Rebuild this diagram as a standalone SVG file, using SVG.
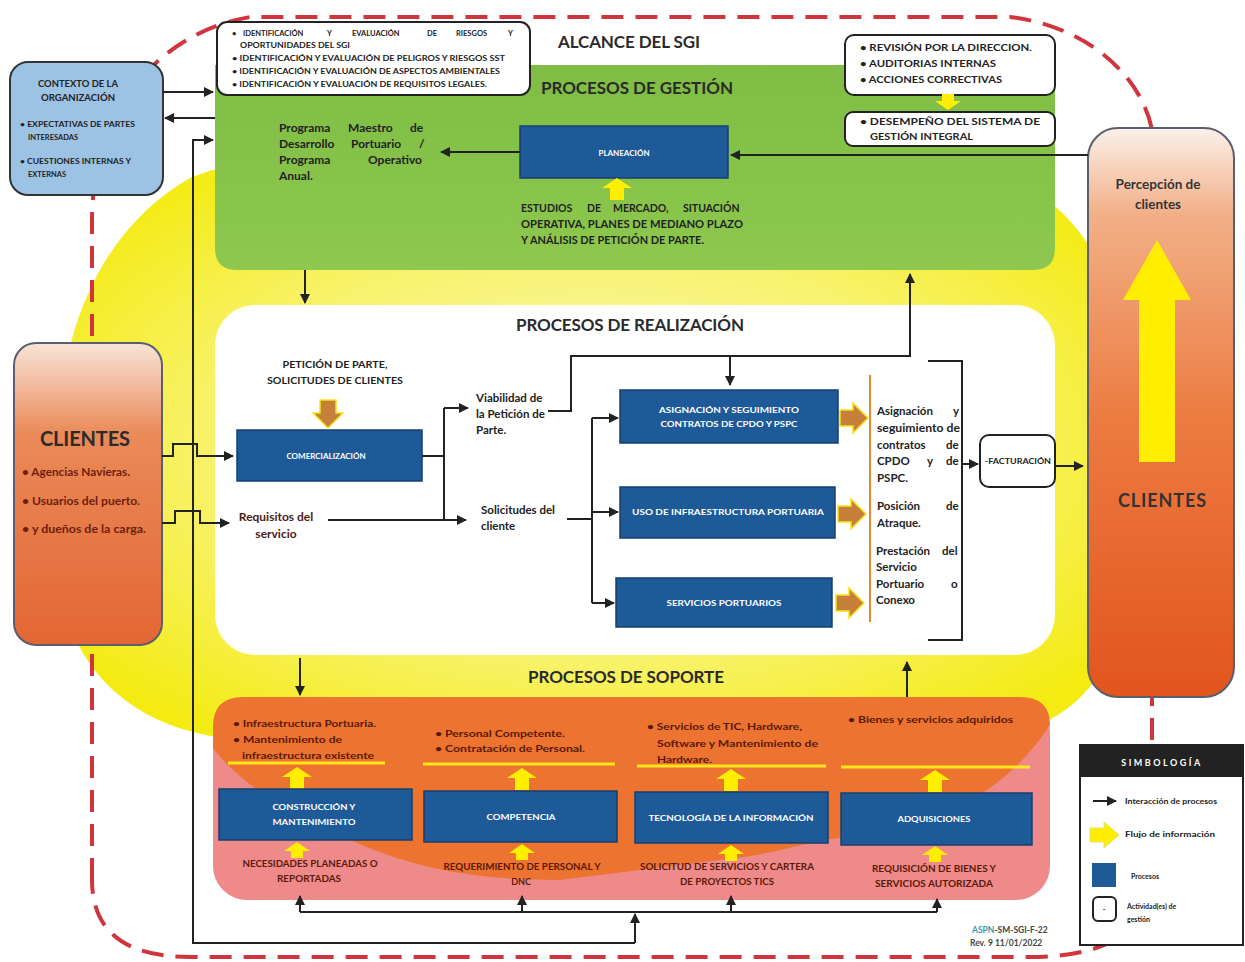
<svg xmlns="http://www.w3.org/2000/svg" width="1245" height="962" viewBox="0 0 1245 962">
<defs>
<radialGradient id="gYellow" cx="0.5" cy="0.5" r="0.6">
<stop offset="0" stop-color="#fcf9c8"/><stop offset="0.6" stop-color="#f8f26a"/><stop offset="1" stop-color="#f3eb12"/>
</radialGradient>
<linearGradient id="gGreen" x1="0" y1="0" x2="0" y2="1">
<stop offset="0" stop-color="#7fbd44"/><stop offset="1" stop-color="#8ec84e"/>
</linearGradient>
<linearGradient id="gCliL" x1="0" y1="0" x2="0" y2="1">
<stop offset="0" stop-color="#f8e4d8"/><stop offset="0.3" stop-color="#ea8a58"/><stop offset="1" stop-color="#e36634"/>
</linearGradient>
<linearGradient id="gCliR" x1="0" y1="0" x2="0" y2="1">
<stop offset="0" stop-color="#fbf0ea"/><stop offset="0.15" stop-color="#f2b088"/><stop offset="0.5" stop-color="#ec7c42"/><stop offset="1" stop-color="#e3541e"/>
</linearGradient>
<marker id="ah" viewBox="0 0 10 10" refX="9" refY="5" markerWidth="5" markerHeight="5" orient="auto" markerUnits="strokeWidth">
<path d="M0,0 L10,5 L0,10 z" fill="#222"/>
</marker>
<path id="yup" d="M0,0 L15,10 L7,10 L7,22 L-7,22 L-7,10 L-15,10 Z"/>
<path id="yupS" d="M0,0 L13,9 L6,9 L6,16 L-6,16 L-6,9 L-13,9 Z"/>
<path id="oright" d="M0,-8 L13,-8 L13,-15 L28,0 L13,15 L13,8 L0,8 Z"/>
</defs>
<style>
text{font-family:Lato,"Liberation Sans",Arial,sans-serif;font-weight:bold}
.title{font-size:17px;fill:#2a2a2a}
.proc{fill:#1e5a98;stroke:#163f6c;stroke-width:1.5}
.pt{fill:#fff;font-size:8px;text-anchor:middle}
.mgmt{fill:#fff;stroke:#222;stroke-width:2}
.sm{font-size:7.5px;fill:#222}
.bx{font-size:10px;fill:#222}
.tx{font-size:11.5px;fill:#222}
.dk{fill:#222}
.sup{font-size:10px;fill:#5a1a08}
.bot{font-size:9px;fill:#5a1a08;text-anchor:middle}
.cn{fill:none;stroke:#222;stroke-width:2}
.ya{fill:#ffee00}
.oa{fill:#c7803a;stroke:#f4e21a;stroke-width:1.5}
.yl{stroke:#ffe81a;stroke-width:3}
</style>
<rect width="1245" height="962" fill="#fff"/>
<path id="yellowbg" d="M58,440 C60,330 100,230 190,178 C220,165 260,160 310,160 L900,160 C1060,160 1125,250 1125,400 L1125,560 C1125,690 1060,740 950,740 L260,740 C120,740 58,650 58,560 Z" fill="url(#gYellow)"/>
<path id="boundary" d="M92,880 L92,220 C92,120 150,35 250,17 L1010,17 C1080,25 1140,70 1152,130 L1152,880 C1150,935 1100,957 1030,957 L190,957 C130,957 92,935 92,880 Z" fill="none" stroke="#d0343c" stroke-width="4" stroke-dasharray="22 12"/>
<g id="gestion">
<path d="M215,65 L1055,65 L1055,248 Q1055,270 1033,270 L237,270 Q215,270 215,248 Z" fill="url(#gGreen)"/>
<text class="title" x="541" y="94" textLength="192">PROCESOS DE GESTIÓN</text>
</g>
<text id="alcance" class="title" x="558" y="48" textLength="142">ALCANCE DEL SGI</text>
<g id="riesgos">
<rect class="mgmt" x="217" y="22" width="313" height="73" rx="10"/>
<text class="sm" y="36"><tspan x="232">•</tspan><tspan x="243">IDENTIFICACIÓN</tspan><tspan x="327">Y</tspan><tspan x="352">EVALUACIÓN</tspan><tspan x="427">DE</tspan><tspan x="456">RIESGOS</tspan><tspan x="508">Y</tspan></text>
<text class="sm" x="240" y="48" textLength="110" lengthAdjust="spacingAndGlyphs">OPORTUNIDADES DEL SGI</text>
<text class="sm" x="232" y="61" textLength="273" lengthAdjust="spacingAndGlyphs">• IDENTIFICACIÓN Y EVALUACIÓN DE PELIGROS Y RIESGOS SST</text>
<text class="sm" x="232" y="74" textLength="268" lengthAdjust="spacingAndGlyphs">• IDENTIFICACIÓN Y EVALUACIÓN DE ASPECTOS AMBIENTALES</text>
<text class="sm" x="232" y="87" textLength="255" lengthAdjust="spacingAndGlyphs">• IDENTIFICACIÓN Y EVALUACIÓN DE REQUISITOS LEGALES.</text>
</g>
<g id="revision">
<rect class="mgmt" x="845" y="35" width="210" height="60" rx="9"/>
<text class="bx" x="860" y="51" textLength="172" lengthAdjust="spacingAndGlyphs">• REVISIÓN POR LA DIRECCION.</text>
<text class="bx" x="860" y="67" textLength="136" lengthAdjust="spacingAndGlyphs">• AUDITORIAS INTERNAS</text>
<text class="bx" x="860" y="83" textLength="142" lengthAdjust="spacingAndGlyphs">• ACCIONES CORRECTIVAS</text>
</g>
<use class="ya" href="#yupS" transform="translate(948,110) rotate(180)"/>
<g id="desempeno">
<rect class="mgmt" x="845" y="112" width="210" height="34" rx="8"/>
<text class="bx" x="860" y="125" textLength="180" lengthAdjust="spacingAndGlyphs">• DESEMPEÑO DEL SISTEMA DE</text>
<text class="bx" x="870" y="140" textLength="103" lengthAdjust="spacingAndGlyphs">GESTIÓN INTEGRAL</text>
</g>
<g id="contexto">
<rect x="10" y="62" width="153" height="133" rx="18" fill="#9cc3e4" stroke="#333" stroke-width="2"/>
<text class="dk" x="78" y="87" font-size="8.5" text-anchor="middle" textLength="80" lengthAdjust="spacingAndGlyphs">CONTEXTO DE LA</text>
<text class="dk" x="78" y="101" font-size="8.5" text-anchor="middle" textLength="74" lengthAdjust="spacingAndGlyphs">ORGANIZACIÓN</text>
<text class="dk" x="20" y="127" font-size="7.5" textLength="115" lengthAdjust="spacingAndGlyphs">• EXPECTATIVAS DE PARTES</text>
<text class="dk" x="28" y="140" font-size="7.5">INTERESADAS</text>
<text class="dk" x="20" y="164" font-size="7.5" textLength="111" lengthAdjust="spacingAndGlyphs">• CUESTIONES INTERNAS Y</text>
<text class="dk" x="28" y="177" font-size="7.5">EXTERNAS</text>
</g>
<g id="programa" font-size="12">
<text class="dk" y="132"><tspan x="279">Programa</tspan><tspan x="348">Maestro</tspan><tspan x="410">de</tspan></text>
<text class="dk" y="148"><tspan x="279">Desarrollo</tspan><tspan x="351">Portuario</tspan><tspan x="419">/</tspan></text>
<text class="dk" y="164"><tspan x="279">Programa</tspan><tspan x="368">Operativo</tspan></text>
<text class="dk" x="279" y="180">Anual.</text>
</g>
<g id="planeacion">
<rect class="proc" x="520" y="126" width="208" height="52"/>
<text class="pt" x="624" y="156">PLANEACIÓN</text>
</g>
<use class="ya" href="#yup" transform="translate(617,178)"/>
<g id="estudios" font-size="10.5">
<text class="dk" y="212"><tspan x="521">ESTUDIOS</tspan><tspan x="587">DE</tspan><tspan x="613">MERCADO,</tspan><tspan x="683">SITUACIÓN</tspan></text>
<text class="dk" x="521" y="228" textLength="222" lengthAdjust="spacingAndGlyphs">OPERATIVA, PLANES DE MEDIANO PLAZO</text>
<text class="dk" x="521" y="244" textLength="183" lengthAdjust="spacingAndGlyphs">Y ANÁLISIS DE PETICIÓN DE PARTE.</text>
</g>
<g id="realizacion">
<rect x="215" y="305" width="840" height="350" rx="40" fill="#fff"/>
<text class="title" x="516" y="331" textLength="228">PROCESOS DE REALIZACIÓN</text>
</g>
<g id="clientesL">
<rect x="14" y="343" width="148" height="302" rx="22" fill="url(#gCliL)" stroke="#5a5f6e" stroke-width="2"/>
<text x="85" y="446" font-size="20" text-anchor="middle" fill="#2b2b2b" textLength="90">CLIENTES</text>
<text x="22" y="476" font-size="10.5" fill="#6e1e0e" textLength="108" lengthAdjust="spacingAndGlyphs">• Agencias Navieras.</text>
<text x="22" y="505" font-size="10.5" fill="#6e1e0e" textLength="118" lengthAdjust="spacingAndGlyphs">• Usuarios del puerto.</text>
<text x="22" y="533" font-size="10.5" fill="#6e1e0e" textLength="124" lengthAdjust="spacingAndGlyphs">• y dueños de la carga.</text>
</g>
<g id="peticion">
<text class="dk" x="335" y="368" font-size="10" text-anchor="middle" textLength="105" lengthAdjust="spacingAndGlyphs">PETICIÓN DE PARTE,</text>
<text class="dk" x="335" y="384" font-size="10" text-anchor="middle" textLength="136" lengthAdjust="spacingAndGlyphs">SOLICITUDES DE CLIENTES</text>
</g>
<use class="oa" href="#oright" transform="translate(328,400) rotate(90)"/>
<g id="comercializacion">
<rect class="proc" x="237" y="430" width="185" height="51"/>
<text class="pt" x="326" y="459" font-size="8.5">COMERCIALIZACIÓN</text>
</g>
<g id="requisitos">
<text x="276" y="521" font-size="12" text-anchor="middle" fill="#4a2015">Requisitos del</text>
<text x="276" y="538" font-size="12" text-anchor="middle" fill="#4a2015">servicio</text>
</g>
<g id="viabilidad">
<text x="476" y="402" class="tx">Viabilidad de</text>
<text x="476" y="418" class="tx">la Petición de</text>
<text x="476" y="434" class="tx">Parte.</text>
</g>
<g id="solicitudes">
<text x="481" y="514" class="tx" font-size="12">Solicitudes del</text>
<text x="481" y="530" class="tx" font-size="12">cliente</text>
</g>
<g id="asignacion">
<rect class="proc" x="620" y="390" width="218" height="53"/>
<text class="pt" x="729" y="413" textLength="140" lengthAdjust="spacingAndGlyphs">ASIGNACIÓN Y SEGUIMIENTO</text>
<text class="pt" x="729" y="427" textLength="137" lengthAdjust="spacingAndGlyphs">CONTRATOS DE CPDO Y PSPC</text>
</g>
<g id="uso">
<rect class="proc" x="620" y="487" width="215" height="51"/>
<text class="pt" x="728" y="515" textLength="192" lengthAdjust="spacingAndGlyphs">USO DE INFRAESTRUCTURA PORTUARIA</text>
</g>
<g id="servicios">
<rect class="proc" x="616" y="578" width="216" height="49"/>
<text class="pt" x="724" y="606" textLength="115" lengthAdjust="spacingAndGlyphs">SERVICIOS PORTUARIOS</text>
</g>
<use class="oa" href="#oright" transform="translate(840,418)"/>
<use class="oa" href="#oright" transform="translate(838,514)"/>
<use class="oa" href="#oright" transform="translate(836,603)"/>
<line x1="870" y1="375" x2="870" y2="622" stroke="#e08a30" stroke-width="2"/>
<g id="resultados" font-size="11.5">
<text class="dk" y="415"><tspan x="877">Asignación</tspan><tspan x="953">y</tspan></text>
<text class="dk" x="877" y="432" textLength="83" lengthAdjust="spacingAndGlyphs">seguimiento de</text>
<text class="dk" y="449"><tspan x="877">contratos</tspan><tspan x="946">de</tspan></text>
<text class="dk" y="465"><tspan x="877">CPDO</tspan><tspan x="927">y</tspan><tspan x="946">de</tspan></text>
<text class="dk" x="877" y="482">PSPC.</text>
<text class="dk" y="510"><tspan x="877">Posición</tspan><tspan x="946">de</tspan></text>
<text class="dk" x="877" y="527">Atraque.</text>
<text class="dk" y="555"><tspan x="876">Prestación</tspan><tspan x="942">del</tspan></text>
<text class="dk" x="876" y="571">Servicio</text>
<text class="dk" y="588"><tspan x="876">Portuario</tspan><tspan x="951">o</tspan></text>
<text class="dk" x="876" y="604">Conexo</text>
</g>
<g id="facturacion">
<rect class="mgmt" x="980" y="435" width="75" height="52" rx="9"/>
<text class="dk" x="1018" y="464" font-size="7" text-anchor="middle" textLength="66" lengthAdjust="spacingAndGlyphs">-FACTURACIÓN</text>
</g>
<g id="clientesR">
<rect x="1088" y="128" width="146" height="569" rx="30" fill="url(#gCliR)" stroke="#5a5f6e" stroke-width="2"/>
<text x="1158" y="189" font-size="13.5" text-anchor="middle" fill="#333">Percepción de</text>
<text x="1158" y="209" font-size="13.5" text-anchor="middle" fill="#333">clientes</text>
<path d="M1157,240 L1191,300 L1175,300 L1175,462 L1139,462 L1139,300 L1123,300 Z" fill="#ffee00"/>
<text x="1162" y="507" font-size="18" text-anchor="middle" fill="#333" textLength="88">CLIENTES</text>
</g>
<text id="soporteTitle" class="title" x="528" y="683" textLength="196">PROCESOS DE SOPORTE</text>
<g id="soporte">
<rect x="213" y="697" width="837" height="203" rx="34" fill="#ee8a8a"/>
<path d="M243,697 L1020,697 Q1050,697 1050,725 C1000,800 930,830 823,840 C780,850 760,856 720,860 L560,880 C480,880 420,870 357,843 C300,820 240,785 213,748 L213,727 Q213,697 243,697 Z" fill="#ec7330"/>
<line class="yl" x1="228" y1="763" x2="385" y2="763"/>
<line class="yl" x1="423" y1="764" x2="615" y2="764"/>
<line class="yl" x1="637" y1="766" x2="826" y2="766"/>
<line class="yl" x1="841" y1="767" x2="1030" y2="767"/>
<text class="sup" x="233" y="727" textLength="143" lengthAdjust="spacingAndGlyphs">• Infraestructura Portuaria.</text>
<text class="sup" x="233" y="743" textLength="109" lengthAdjust="spacingAndGlyphs">• Mantenimiento de</text>
<text class="sup" x="242" y="759" textLength="132" lengthAdjust="spacingAndGlyphs">infraestructura existente</text>
<text class="sup" x="435" y="737" textLength="130" lengthAdjust="spacingAndGlyphs">• Personal Competente.</text>
<text class="sup" x="435" y="752" textLength="150" lengthAdjust="spacingAndGlyphs">• Contratación de Personal.</text>
<text class="sup" x="647" y="730" textLength="155" lengthAdjust="spacingAndGlyphs">• Servicios de TIC, Hardware,</text>
<text class="sup" x="657" y="747" textLength="161" lengthAdjust="spacingAndGlyphs">Software y Mantenimiento de</text>
<text class="sup" x="657" y="763" textLength="55" lengthAdjust="spacingAndGlyphs">Hardware.</text>
<text class="sup" x="848" y="723" textLength="165" lengthAdjust="spacingAndGlyphs">• Bienes y servicios adquiridos</text>
<use class="ya" href="#yup" transform="translate(297,767)"/>
<use class="ya" href="#yup" transform="translate(522,768)"/>
<use class="ya" href="#yup" transform="translate(731,769)"/>
<use class="ya" href="#yup" transform="translate(935,770)"/>
</g>
<g id="construccion">
<rect class="proc" x="219" y="789" width="193" height="51"/>
<text class="pt" x="314" y="810" textLength="83" lengthAdjust="spacingAndGlyphs">CONSTRUCCIÓN Y</text>
<text class="pt" x="314" y="825" textLength="83" lengthAdjust="spacingAndGlyphs">MANTENIMIENTO</text>
</g>
<g id="competencia">
<rect class="proc" x="424" y="791" width="193" height="51"/>
<text class="pt" x="521" y="820" textLength="69" lengthAdjust="spacingAndGlyphs">COMPETENCIA</text>
</g>
<g id="tecnologia">
<rect class="proc" x="635" y="792" width="193" height="51"/>
<text class="pt" x="731" y="821" textLength="165" lengthAdjust="spacingAndGlyphs">TECNOLOGÍA DE LA INFORMACIÓN</text>
</g>
<g id="adquisiciones">
<rect class="proc" x="841" y="793" width="191" height="52"/>
<text class="pt" x="934" y="822" textLength="73" lengthAdjust="spacingAndGlyphs">ADQUISICIONES</text>
</g>
<g id="entradas">
<use class="ya" href="#yupS" transform="translate(297,842)"/>
<use class="ya" href="#yupS" transform="translate(522,844)"/>
<use class="ya" href="#yupS" transform="translate(731,845)"/>
<use class="ya" href="#yupS" transform="translate(935,846)"/>
<text class="bot" x="310" y="867" textLength="135" lengthAdjust="spacingAndGlyphs">NECESIDADES PLANEADAS O</text>
<text class="bot" x="309" y="882" textLength="64" lengthAdjust="spacingAndGlyphs">REPORTADAS</text>
<text class="bot" x="522" y="870" textLength="157" lengthAdjust="spacingAndGlyphs">REQUERIMIENTO DE PERSONAL Y</text>
<text class="bot" x="521" y="885">DNC</text>
<text class="bot" x="727" y="870" textLength="174" lengthAdjust="spacingAndGlyphs">SOLICITUD DE SERVICIOS Y CARTERA</text>
<text class="bot" x="727" y="885" textLength="94" lengthAdjust="spacingAndGlyphs">DE PROYECTOS TICS</text>
<text class="bot" x="934" y="872" textLength="124" lengthAdjust="spacingAndGlyphs">REQUISICIÓN DE BIENES Y</text>
<text class="bot" x="934" y="887" textLength="118" lengthAdjust="spacingAndGlyphs">SERVICIOS AUTORIZADA</text>
</g>
<g id="connectors">
<path class="cn" d="M163,92 L213,92" marker-end="url(#ah)"/>
<path class="cn" d="M215,118 L165,118" marker-end="url(#ah)"/>
<path class="cn" d="M635,943 L193,943 L193,140 L213,140" marker-end="url(#ah)"/>
<path class="cn" d="M635,943 L635,914" marker-end="url(#ah)"/>
<path class="cn" d="M300,912 L937,912"/>
<path class="cn" d="M300,912 L300,896" marker-end="url(#ah)"/>
<path class="cn" d="M522,912 L522,896" marker-end="url(#ah)"/>
<path class="cn" d="M731,912 L731,896" marker-end="url(#ah)"/>
<path class="cn" d="M937,912 L937,899" marker-end="url(#ah)"/>
<path class="cn" d="M305,270 L305,303" marker-end="url(#ah)"/>
<path class="cn" d="M1088,155 L731,155" marker-end="url(#ah)"/>
<path class="cn" d="M520,152 L441,152" marker-end="url(#ah)"/>
<path class="cn" d="M300,658 L300,695" marker-end="url(#ah)"/>
<path class="cn" d="M907,697 L907,662" marker-end="url(#ah)"/>
<path class="cn" d="M162,456 L173,456 L173,444 L197,444 L197,456 L233,456" marker-end="url(#ah)"/>
<path class="cn" d="M162,523 L175,523 L175,511 L200,511 L200,523 L229,523" marker-end="url(#ah)"/>
<path class="cn" d="M422,456 L444,456 M444,408 L444,520"/>
<path class="cn" d="M444,408 L468,408" marker-end="url(#ah)"/>
<path class="cn" d="M328,520 L466,520" marker-end="url(#ah)"/>
<path class="cn" d="M548,411 L571,411 L571,356 L910,356 L910,274" marker-end="url(#ah)"/>
<path class="cn" d="M730,356 L730,385" marker-end="url(#ah)"/>
<path class="cn" d="M567,519 L592,519 M592,418 L592,603"/>
<path class="cn" d="M592,418 L618,418" marker-end="url(#ah)"/>
<path class="cn" d="M592,512 L618,512" marker-end="url(#ah)"/>
<path class="cn" d="M592,603 L614,603" marker-end="url(#ah)"/>
<path class="cn" d="M928,361 L962,361 L962,640 L928,640"/>
<path class="cn" d="M962,464 L978,464" marker-end="url(#ah)"/>
<path class="cn" d="M1055,466 L1083,466" marker-end="url(#ah)"/>
</g>
<g id="leyenda">
<rect x="1080" y="745" width="163" height="200" fill="#fff" stroke="#222" stroke-width="2"/>
<rect x="1080" y="745" width="163" height="32" fill="#222"/>
<text x="1162" y="766" font-size="9" text-anchor="middle" fill="#fff" letter-spacing="2.5">SIMBOLOGÍA</text>
<path class="cn" d="M1093,801 L1116,801" marker-end="url(#ah)"/>
<text class="dk" x="1125" y="804" font-size="7" textLength="92" lengthAdjust="spacingAndGlyphs">Interacción de procesos</text>
<path d="M1090,828 L1104,828 L1104,822 L1119,835 L1104,848 L1104,842 L1090,842 Z" fill="#ffee00" stroke="#e8e070" stroke-width="1"/>
<text class="dk" x="1125" y="837" font-size="7" textLength="90" lengthAdjust="spacingAndGlyphs">Flujo de información</text>
<rect x="1092" y="863" width="24" height="24" fill="#1e5a98"/>
<text class="dk" x="1131" y="879" font-size="7">Procesos</text>
<rect x="1093" y="897" width="23" height="24" rx="5" fill="#fff" stroke="#222" stroke-width="2"/>
<text class="dk" x="1104" y="912" font-size="7" text-anchor="middle">-</text>
<text class="dk" x="1127" y="909" font-size="7">Actividad(es) de</text>
<text class="dk" x="1127" y="922" font-size="7">gestión</text>
</g>
<g id="codigo">
<text x="972" y="933" font-size="8.5" font-weight="normal" fill="#444"><tspan fill="#3a98a8">ASPN</tspan>-SM-SGI-F-22</text>
<text x="970" y="946" font-size="8.5" font-weight="normal" fill="#444">Rev. 9 11/01/2022</text>
</g>
</svg>
